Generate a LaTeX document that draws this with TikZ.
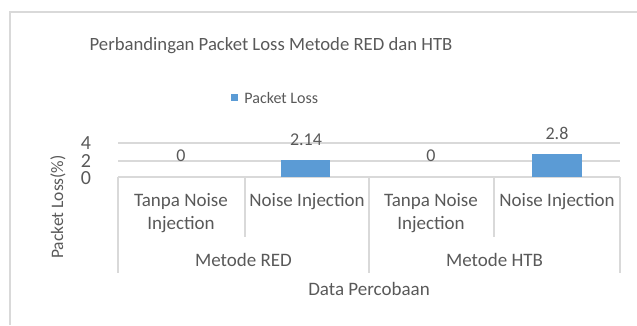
\documentclass[tikz,border=0pt]{standalone}
\usepackage{fontspec}
\setmainfont{Carlito}
\usetikzlibrary{positioning}

\definecolor{gridgray}{HTML}{D9D9D9}
\definecolor{txtgray}{HTML}{595959}
\definecolor{barblue}{HTML}{5B9BD5}

\tikzset{
  lbl/.style={text=txtgray, inner sep=0pt, align=center, font=\fontsize{19}{23}\selectfont},
  valbl/.style={lbl, font=\fontsize{18}{20}\selectfont},
  ticklbl/.style={lbl, font=\fontsize{20}{20}\selectfont},
  gridln/.style={gridgray, line width=1.5pt},
  bar/.style={fill=barblue, draw=none, inner sep=0pt, minimum width=49.5pt},
}

\begin{document}
\begin{tikzpicture}[x=1pt,y=-1pt]
  \useasboundingbox (0,0) rectangle (637,325);

  % Chart frame
  \draw[gridgray, line width=2pt] (10,325) -- (10,12) -- (637,12);

  % Title and legend
  \node[lbl, font=\fontsize{18.7}{22}\selectfont] (title) at (271,46) {Perbandingan Packet Loss Metode RED dan HTB};
  \node[fill=barblue, inner sep=0pt, minimum size=7pt] (legkey) at (234.5,97.5) {};
  \node[lbl, font=\fontsize{16}{18}\selectfont, right=6pt of legkey] (legtext) {Packet Loss};

  % Gridlines and category axis
  \coordinate (g4l) at (118,143);  \coordinate (g4r) at (620,143);
  \coordinate (g2l) at (118,161);  \coordinate (g2r) at (620,161);
  \coordinate (g0l) at (118,177);  \coordinate (g0r) at (620,177);
  \draw[gridln] (g4l) -- (g4r);
  \draw[gridln] (g2l) -- (g2r);
  \draw[gridln] (g0l) -- (g0r);

  % Category separators
  \draw[gridln] (118,177) -- (118,273);
  \draw[gridln] (245,177) -- (245,237);
  \draw[gridln] (369,177) -- (369,273);
  \draw[gridln] (494,177) -- (494,237);
  \draw[gridln] (620,177) -- (620,273);

  % Bars (8pt per unit)
  \node[bar, minimum height=17.1pt, anchor=south] (barred) at (305.5,177) {};
  \node[bar, minimum height=22.4pt, anchor=south] (barhtb) at (557,177) {};

  % Data labels
  \node[valbl] (v1) at (181,156) {0};
  \node[valbl] (v2) at (306,140) {2.14};
  \node[valbl] (v3) at (431,156) {0};
  \node[valbl] (v4) at (557,133) {2.8};

  % Value axis
  \node[ticklbl] (t4) at (86,143) {4};
  \node[ticklbl] (t2) at (86,161) {2};
  \node[ticklbl] (t0) at (86,178) {0};
  \node[lbl, font=\fontsize{17.5}{20}\selectfont, rotate=90] (ytitle) at (58,207) {Packet Loss(\%)};

  % Category labels
  \node[lbl] (c1) at (181,213) {Tanpa Noise\\Injection};
  \node[lbl] (c2) at (307,202) {Noise Injection};
  \node[lbl] (c3) at (431,213) {Tanpa Noise\\Injection};
  \node[lbl] (c4) at (557,202) {Noise Injection};
  \node[lbl] (m1) at (243.5,260) {Metode RED};
  \node[lbl] (m2) at (494.5,260) {Metode HTB};
  \node[lbl] (xtitle) at (369,289) {Data Percobaan};
\end{tikzpicture}
\end{document}
